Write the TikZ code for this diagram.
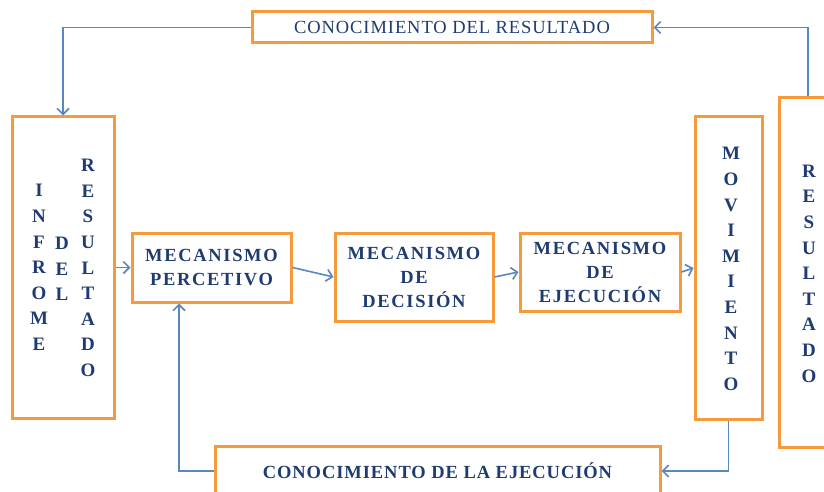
\documentclass[tikz,border=0pt]{standalone}
\usepackage{fontspec}
\setmainfont{Liberation Serif}
\newfontfamily\tracked[LetterSpace=5]{Liberation Serif}
\newfontfamily\wide[LetterSpace=9]{Liberation Serif}
\usetikzlibrary{positioning, arrows.meta}
\definecolor{boxorange}{HTML}{F79A3B}
\definecolor{linkblue}{HTML}{5B87C0}
\definecolor{inkblue}{HTML}{1F3C72}

\begin{document}
\begin{tikzpicture}[x=1pt, y=-1pt,
			> = {Straight Barb[length=6pt, width=12pt]},
			caja/.style = {draw=boxorange, line width=3pt, fill=white, inner sep=0pt, text=inkblue},
			link/.style = {->, draw=linkblue, line width=1.6pt},
			cuadro/.style = {font=\wide\bfseries\fontsize{18.5}{24}\selectfont, align=center},
			columna/.style = {text=inkblue, font=\bfseries\fontsize{19}{25.6}\selectfont, align=center, inner sep=0pt}]
			\useasboundingbox (0,0) rectangle (824,492);
			
			\node[caja, minimum width=400pt, minimum height=31pt, font=\tracked\fontsize{18.5}{24}\selectfont] (conres) at (452,27.5) {CONOCIMIENTO DEL RESULTADO};
			\node[caja, minimum width=445pt, minimum height=50pt, font=\tracked\bfseries\fontsize{18.5}{24}\selectfont] (coneje) at (437.5,471) {CONOCIMIENTO DE LA EJECUCIÓN};
			%
			\node[caja, minimum width=102pt, minimum height=301pt] (informe) at (63,267.5) {};
			\node[caja, cuadro, minimum width=159pt, minimum height=69pt] (percep) at (211.5,267.5) {MECANISMO\\PERCETIVO};
			\node[caja, cuadro, minimum width=158pt, minimum height=88pt] (decis) at (414,277) {MECANISMO\\DE\\DECISIÓN};
			\node[caja, cuadro, minimum width=160pt, minimum height=78pt] (ejecu) at (600,272) {MECANISMO\\DE\\EJECUCIÓN};
			\node[caja, minimum width=67pt, minimum height=302pt] (movim) at (728.5,268) {};
			\node[caja, minimum width=71pt, minimum height=349pt] (result) at (814.5,272.5) {};
			%
			\node[columna] (informeA) at (39,267.5) {I\\N\\F\\R\\O\\M\\E};
			\node[columna] (informeB) at (62,269) {D\\E\\L};
			\node[columna] (informeC) at (88,268) {R\\E\\S\\U\\L\\T\\A\\D\\O};
			\node[columna] (movimA) at (731,269) {M\\O\\V\\I\\M\\I\\E\\N\\T\\O};
			\node[columna] (resultA) at (809,273.5) {R\\E\\S\\U\\L\\T\\A\\D\\O};
			
			\draw[link] (conres.west) -| (informe.north);
			\draw[link] ([xshift=-6.5pt]result.north) |- (conres.east);
			\draw[link] (informe.east) -- (percep.west);
			\draw[link] (percep.east) -- (decis.west);
			\draw[link] (decis.east) -- (ejecu.west);
			\draw[link] (ejecu.east) -- (movim.west);
			\draw[link] (movim.south) |- (coneje.east);
			\draw[link] (coneje.west) -| ([xshift=-32.5pt]percep.south);
		\end{tikzpicture}
\end{document}
